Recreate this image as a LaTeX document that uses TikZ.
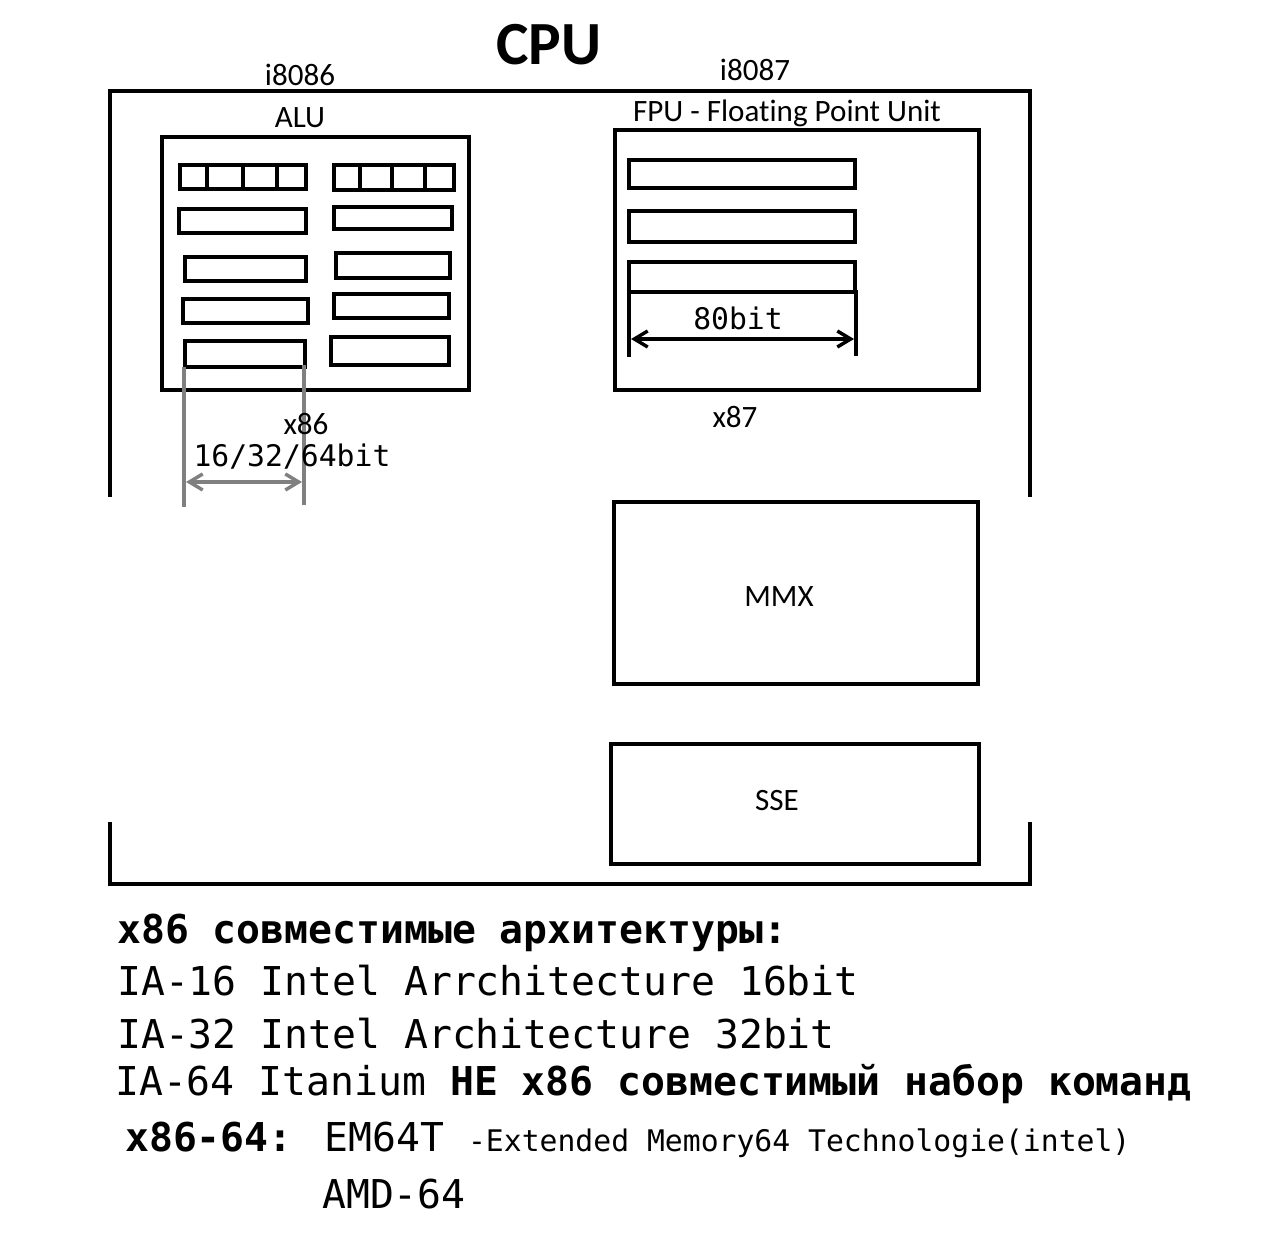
\documentclass[tikz,border=0pt]{standalone}
\usepackage{fontspec}
\setmainfont{Carlito}[Ligatures=NoCommon]
\newfontfamily\monofont{DejaVu Sans Mono}
\usepackage{xcolor}
\usetikzlibrary{arrows.meta}
\definecolor{dimline}{RGB}{128,128,128}
\newcommand{\lblfont}{\fontsize{23.3pt}{27pt}\selectfont}
\newcommand{\bigmono}{\monofont\fontsize{29.8pt}{34pt}\selectfont}
\newcommand{\smallmono}{\monofont\fontsize{22.3pt}{26pt}\selectfont}

\begin{document}
\begin{tikzpicture}[x=0.75pt,y=-0.75pt,line width=3.3pt,
    lbl/.style={inner sep=0pt,anchor=base,font=\lblfont},
    txt/.style={inner sep=0pt,anchor=base west,font=\bigmono},
    dimarrow/.style={line width=2.6pt,{Straight Barb[length=10pt,width=12pt]}-{Straight Barb[length=10pt,width=12pt]}}]
\useasboundingbox (0,0) rectangle (1272,1244);

% CPU frame
\draw (110,497) -- (110,91) -- (1030,91) -- (1030,497);
\draw (110,822) -- (110,884) -- (1030,884) -- (1030,822);
\node[inner sep=0pt,anchor=base,font=\fontsize{46pt}{50pt}\selectfont\bfseries] (cpu) at (549,65) {CPU};

% ALU
\node[lbl] (i8086) at (300,86) {i8086};
\node[lbl] (alu) at (300,128) {ALU};
\draw (162,137) rectangle (469,390);
\foreach \xa/\ya/\xb/\yb in {180/165/306/189, 334/165/454/190, 179/209/306/233, 334/207/452/229,
    185/257/306/281, 336/253/450/278, 183/299/308/323, 334/294/449/318, 185/341/305/367, 331/337/449/365}
  \draw (\xa,\ya) rectangle (\xb,\yb);
\foreach \x in {207,243,277,360,392,425}
  \draw (\x,165) -- (\x,189.5);

% width x86
\coordinate (g1) at (184,367);
\coordinate (g2) at (184,507);
\coordinate (g3) at (304,365);
\coordinate (g4) at (304,505);
\coordinate (ga) at (186,482);
\coordinate (gb) at (302,482);
\draw[dimline] (g1) -- (g2);
\draw[dimline] (g3) -- (g4);
\draw[dimline,dimarrow] (ga) -- (gb);
\node[lbl] (x86) at (306,435) {x86};
\node[inner sep=0pt,anchor=base,font=\smallmono] (bits) at (292,467) {16/32/64bit};

% FPU
\node[lbl] (i8087) at (755,81) {i8087};
\node[lbl] (fpu) at (787,122) {FPU - Floating Point Unit};
\draw (615,130) rectangle (979,390);
\foreach \ya/\yb in {160/188, 211/242, 262/292}
  \draw (629,\ya) rectangle (855,\yb);
\coordinate (f1) at (629,290);
\coordinate (f2) at (629,357);
\coordinate (f3) at (856,290);
\coordinate (f4) at (856,356);
\coordinate (fa) at (631,339);
\coordinate (fb) at (854,339);
\draw (f1) -- (f2);
\draw (f3) -- (f4);
\draw[dimarrow] (fa) -- (fb);
\node[inner sep=0pt,anchor=base,font=\smallmono] (fbits) at (738,330) {80bit};
\node[lbl] (x87) at (735,428) {x87};

% MMX, SSE
\draw (614,502) rectangle (978,684);
\node[lbl] (mmx) at (779,607) {MMX};
\draw (611,744) rectangle (979,864);
\node[lbl] (sse) at (777,810) {SSE};

% Text
\node[txt] (arch) at (115,943) {\bfseries x86 совместимые архитектуры:};
\node[txt] (ia16) at (115,995) {IA-16 Intel Arrchitecture 16bit};
\node[txt] (ia32) at (115,1048) {IA-32 Intel Architecture 32bit};
\node[txt] (ia64) at (113,1095) {IA-64 Itanium \textbf{НЕ x86 совместимый набор команд}};
\node[txt] (x8664) at (123,1151) {\textbf{x86-64:} EM64T {\smallmono -Extended Memory64 Technologie(intel)}};
\node[txt] (amd) at (320,1208) {AMD-64};
\end{tikzpicture}
\end{document}
